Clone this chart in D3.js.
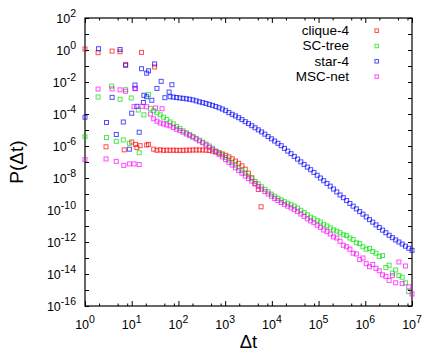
<!DOCTYPE html>
<meta charset="utf-8">
<style>
  body { margin: 0; background: #fff; }
  text { font-family: "Liberation Sans", Arial, sans-serif; fill: #000; }
  .axis path { display: none; }
  .axis line { stroke: #000; stroke-width: 1px; }
  .mark { fill: none; stroke-width: 1px; stroke-opacity: 0.7; }
</style>
<svg width="436" height="353"></svg>
<script src="https://d3js.org/d3.v7.min.js"></script>
<script>

  // series names, in drawing order
  var seriesNames = ["clique-4", "SC-tree", "star-4", "MSC-net"];
  var seriesColors = ["#ff0000", "#00e000", "#0000ff", "#ff00ff"];

  // tick values (exponents of 10)
  var xMajorExp = [0, 1, 2, 3, 4, 5, 6, 7];
  var xMinorMult = [2, 5, 8];
  var yTickExp = d3.range(-16, 3);
  var yLabelExp = [2, 0, -2, -4, -6, -8, -10, -12, -14, -16];

  // log-bin centres of the dense part (log10 of Δt)
  var binT = [1.40, 1.47, 1.54, 1.61, 1.68, 1.75, 1.82, 1.89, 1.96, 2.03,
    2.10, 2.17, 2.24, 2.31, 2.38, 2.45, 2.52, 2.59, 2.66, 2.73,
    2.80, 2.87, 2.94, 3.01, 3.08, 3.15, 3.22, 3.29, 3.36, 3.43,
    3.50, 3.57, 3.64, 3.71, 3.78, 3.85, 3.92, 3.99, 4.06, 4.13,
    4.20, 4.27, 4.34, 4.41, 4.48, 4.55, 4.62, 4.69, 4.76, 4.83,
    4.90, 4.97, 5.04, 5.11, 5.18, 5.25, 5.32, 5.39, 5.46, 5.53,
    5.60, 5.67, 5.74, 5.81, 5.88, 5.95, 6.02, 6.09, 6.16, 6.23,
    6.30, 6.37, 6.44, 6.51, 6.58, 6.65, 6.72, 6.79, 6.86, 6.93,
    7.00];

  // log10 P at each bin (null = no point)
  var cliqueDense = [null, -6.20, -6.27, -6.24, -6.27, -6.26, -6.27, -6.26, -6.27, -6.27,
    -6.27, -6.26, -6.26, -6.25, -6.25, -6.25, -6.25, -6.26, -6.28, -6.32,
    -6.37, -6.43, -6.50, -6.58, -6.68, -6.80, -6.94, -7.08, -7.24, -7.45,
    -7.70, -7.98, -8.35, -8.72];

  var sctreeDense = [-3.65, -3.80, -3.92, -4.05, -4.20, -4.35, -4.50, -4.62, -4.78, -4.90,
    -5.05, -5.17, -5.28, -5.40, -5.52, -5.64, -5.76, -5.88, -6.00, -6.14,
    -6.30, -6.42, -6.56, -6.72, -6.88, -7.04, -7.20, -7.37, -7.54, -7.71,
    -7.88, -8.05, -8.22, -8.38, -8.55, -8.71, -8.86, -9.01, -9.14, -9.26,
    -9.37, -9.48, -9.58, -9.67, -9.76, -9.88, -10.02, -10.15, -10.30, -10.45,
    -10.55, -10.65, -10.75, -10.90, -11.00, -11.12, -11.25, -11.32, -11.42, -11.55,
    -11.60, -11.75, -11.85, -12.05, -12.10, -12.30, -12.45, -12.40, -12.60, -12.70,
    -12.90, -12.85, -13.60, -13.45, -13.95, -13.75, -14.10, -14.20, -14.55, -15.10];

  var starDense = [null, null, null, null, null, null, -2.92, -2.94, -2.97, -3.00,
    -3.02, -3.05, -3.08, -3.12, -3.18, -3.24, -3.29, -3.34, -3.40, -3.46,
    -3.53, -3.61, -3.69, -3.79, -3.91, -4.02, -4.12, -4.23, -4.35, -4.48,
    -4.60, -4.73, -4.86, -4.99, -5.12, -5.26, -5.41, -5.55, -5.69, -5.83,
    -5.98, -6.15, -6.32, -6.48, -6.65, -6.82, -6.99, -7.15, -7.32, -7.48,
    -7.65, -7.83, -8.00, -8.17, -8.34, -8.51, -8.69, -8.87, -9.06, -9.23,
    -9.41, -9.59, -9.76, -9.93, -10.10, -10.26, -10.43, -10.60, -10.76, -10.93,
    -11.09, -11.26, -11.42, -11.58, -11.73, -11.87, -12.00, -12.13, -12.26, -12.39,
    -12.52];

  var mscDense = [-4.00, -4.30, -4.45, -4.56, -4.62, -4.68, -4.74, -4.84, -4.95, -5.04,
    -5.14, -5.25, -5.35, -5.45, -5.56, -5.68, -5.80, -5.94, -6.08, -6.22,
    -6.37, -6.52, -6.68, -6.85, -7.02, -7.19, -7.36, -7.53, -7.70, -7.87,
    -8.04, -8.20, -8.37, -8.53, -8.69, -8.85, -9.00, -9.14, -9.28, -9.41,
    -9.53, -9.65, -9.76, -9.87, -9.98, -10.10, -10.25, -10.40, -10.55, -10.68,
    -10.80, -10.95, -11.08, -11.25, -11.35, -11.50, -11.68, -11.75, -11.95, -12.20,
    -12.30, -12.45, -12.70, -12.75, -13.10, -13.00, -13.35, -13.55, -13.40, -13.65,
    -13.80, -14.05, -14.15, -14.40, -14.10, -14.55, -13.25, -14.60, -13.50, -14.80,
    -15.25];

  // scattered points, [log10 Δt, log10 P]
  var cliqueScatter = [[0, 0.06], [0.28, -0.17], [0.58, -0.07], [0.75, -0.11], [1.21, -0.15],
    [0.87, -0.9], [1.49, -1.06], [0.45, -6.05], [0.84, -6.24], [1.0, -5.75], [1.08, -5.9],
    [1.11, -6.1], [1.18, -5.98], [1.32, -5.94], [1.36, -5.9], [3.77, -9.8]];

  var sctreeScatter = [[0, -5.42], [0.46, -5.47], [0.67, -5.71], [0.82, -5.62], [0.95, -5.83],
    [1.16, -6.42], [0.28, -2.94], [0.57, -2.26], [0.75, -3.08], [0.87, -2.48], [0.99, -3.0],
    [1.36, -2.78], [1.14, -3.75], [1.26, -4.05]];

  var starScatter = [[0.29, 0.08], [0.75, 0.03], [0.87, -0.96], [1.21, -1.17], [1.49, -0.87],
    [1.36, -1.3], [1.32, -1.45], [1.63, -1.96], [1.86, -2.17], [1.07, -2.19], [1.07, -2.4],
    [1.54, -2.4], [1.8, -2.63], [1.71, -2.98], [1.26, -2.83], [1.32, -2.92], [0.58, -2.96],
    [1.43, -3.14], [1.25, -3.28], [1.0, -3.95], [1.11, -3.52], [0, -4.2], [0.46, -4.53],
    [0.82, -4.5], [1.16, -5.14], [0.67, -5.28], [0.95, -6.2]];

  var mscScatter = [[0, -6.85], [0.45, -6.81], [0.67, -6.96], [0.83, -7.21], [0.95, -7.12],
    [1.05, -7.12], [1.16, -7.16], [0.28, -2.44], [0.58, -2.43], [0.75, -2.49], [0.87, -2.58],
    [1.08, -2.42], [1.05, -3.54], [1.22, -3.52], [1.32, -3.55], [1.51, -3.62], [1.65, -3.67]];

  var denseList = [cliqueDense, sctreeDense, starDense, mscDense];
  var scatterList = [cliqueScatter, sctreeScatter, starScatter, mscScatter];

  var svg = d3.select("svg"),
    margin = { top: 18, right: 24, bottom: 47, left: 85 },
    W = +svg.attr("width"), H = +svg.attr("height");

  var x = d3.scaleLog().domain([1, 1e7]).range([margin.left, W - margin.right]);
  var y = d3.scaleLog().domain([1e-16, 1e2]).range([H - margin.bottom, margin.top]);

  var x0 = x.range()[0], x1 = x.range()[1], y0 = y.range()[0], y1 = y.range()[1];

  var xMajor = xMajorExp.map(function (e) { return Math.pow(10, e); });
  var xMinor = [];
  xMajorExp.slice(0, -1).forEach(function (e) {
    xMinorMult.forEach(function (m) { xMinor.push(m * Math.pow(10, e)); });
  });
  var yTicks = yTickExp.map(function (e) { return Math.pow(10, e); });

  // ticks (inward, mirrored)
  function addAxis(axis, tx, ty) {
    svg.append("g").attr("class", "axis")
      .attr("transform", "translate(" + tx + "," + ty + ")")
      .call(axis.tickFormat("").tickSizeOuter(0));
  }
  addAxis(d3.axisBottom(x).tickValues(xMajor).tickSizeInner(-5), 0, y0);
  addAxis(d3.axisBottom(x).tickValues(xMinor).tickSizeInner(-2.5), 0, y0);
  addAxis(d3.axisTop(x).tickValues(xMajor).tickSizeInner(-5), 0, y1);
  addAxis(d3.axisTop(x).tickValues(xMinor).tickSizeInner(-2.5), 0, y1);
  addAxis(d3.axisLeft(y).tickValues(yTicks).tickSizeInner(-4), x0, 0);
  addAxis(d3.axisRight(y).tickValues(yTicks).tickSizeInner(-4), x1, 0);

  // frame
  svg.append("rect")
    .attr("x", x0).attr("y", y1)
    .attr("width", x1 - x0).attr("height", y0 - y1)
    .attr("fill", "none").attr("stroke", "#000").attr("stroke-width", 1.2);

  // tick labels with superscript exponents
  function expLabel(sel, e) {
    sel.append("tspan").text("10");
    sel.append("tspan").attr("dy", -6).style("font-size", "10.5px").text(e);
  }
  xMajorExp.forEach(function (e) {
    var t = svg.append("text")
      .attr("x", x(Math.pow(10, e)))
      .attr("y", y0 + 23)
      .attr("text-anchor", "middle")
      .style("font-size", "12.5px");
    expLabel(t, e);
  });
  yLabelExp.forEach(function (e) {
    var t = svg.append("text")
      .attr("x", x0 - 9)
      .attr("y", y(Math.pow(10, e)) + 5)
      .attr("text-anchor", "end")
      .style("font-size", "12.5px");
    expLabel(t, e);
  });

  // axis titles
  svg.append("text")
    .attr("x", (x0 + x1) / 2).attr("y", 348)
    .attr("text-anchor", "middle")
    .style("font-size", "18.5px")
    .text("Δt");
  svg.append("text")
    .attr("transform", "translate(23," + (y0 + y1) / 2 + ") rotate(-90)")
    .attr("text-anchor", "middle")
    .style("font-size", "19px")
    .text("P(Δt)");

  // build points
  var S = 4;
  seriesNames.forEach(function (name, k) {
    var pts = scatterList[k].map(function (p) { return { t: Math.pow(10, p[0]), p: Math.pow(10, p[1]) }; });
    denseList[k].forEach(function (v, i) {
      if (v !== null) pts.push({ t: Math.pow(10, binT[i]), p: Math.pow(10, v) });
    });
    svg.append("g")
      .selectAll("rect")
      .data(pts)
      .enter().append("rect")
      .attr("class", "mark")
      .attr("x", function (d) { return x(d.t) - S / 2; })
      .attr("y", function (d) { return y(d.p) - S / 2; })
      .attr("width", S).attr("height", S)
      .style("stroke", seriesColors[k]);
  });

  // legend
  var legend = svg.append("g")
    .selectAll("g")
    .data(seriesNames)
    .enter().append("g")
    .attr("transform", function (d, i) { return "translate(0," + (35 + i * 15.3) + ")"; });
  legend.append("text")
    .attr("x", 349)
    .attr("text-anchor", "end")
    .style("font-size", "13.5px")
    .text(function (d) { return d; });
  legend.append("rect")
    .attr("class", "mark")
    .attr("x", 376.7 - 1.75).attr("y", -4.3 - 1.75)
    .attr("width", 3.5).attr("height", 3.5)
    .style("stroke", function (d, i) { return seriesColors[i]; });

</script>
